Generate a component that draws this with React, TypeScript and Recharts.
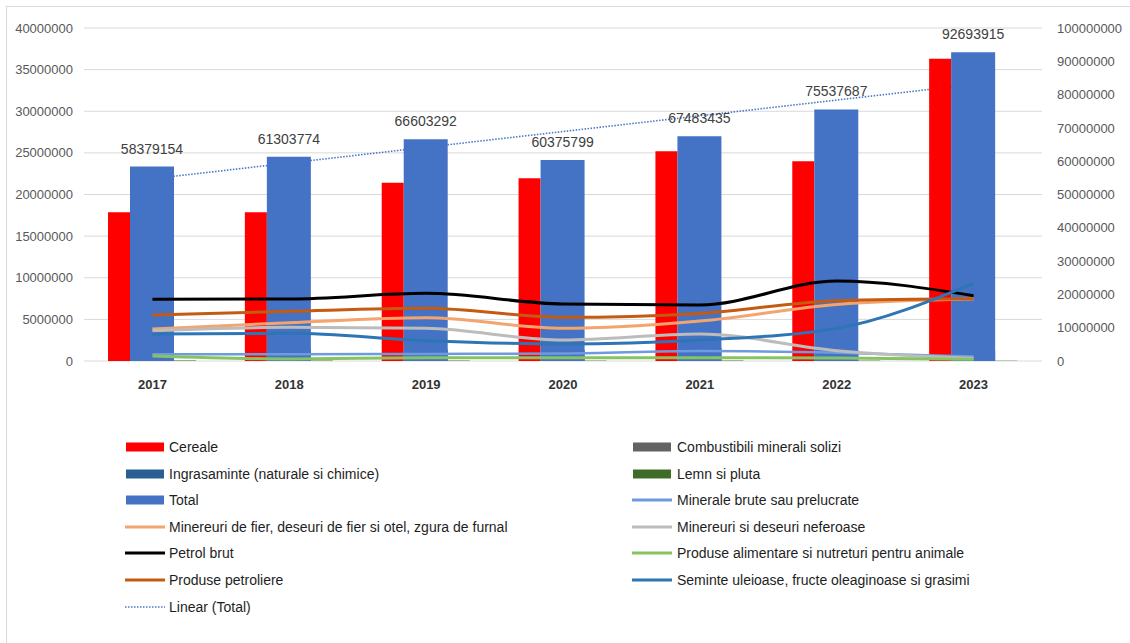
import React from 'react';
import {
  ComposedChart,
  Bar,
  Line,
  XAxis,
  YAxis,
  CartesianGrid,
  LabelList,
  Legend,
} from 'recharts';

// Port traffic by cargo group, tonnes
const years = ['2017', '2018', '2019', '2020', '2021', '2022', '2023'];

// Column series (left axis, except Total on the right axis)
const cereale = [17860000, 17860000, 21420000, 21940000, 25200000, 24000000, 36300000];
const combustibili = [450000, 400000, 380000, 300000, 420000, 520000, 380000];
const ingrasaminte = [1500000, 1450000, 1400000, 1350000, 1600000, 1300000, 1250000];
const lemn = [60000, 50000, 50000, 40000, 50000, 40000, 30000];
const total = [58379154, 61303774, 66603292, 60375799, 67483435, 75537687, 92693915];

// Line series (left axis)
const mineraleBrute = [800000, 800000, 850000, 900000, 1200000, 1000000, 550000];
const minereuriFier = [3840000, 4600000, 5200000, 3920000, 4800000, 6800000, 7450000];
const minereuriNeferoase = [3640000, 4040000, 3920000, 2520000, 3240000, 1240000, 320000];
const petrolBrut = [7420000, 7450000, 8130000, 6850000, 6730000, 9600000, 7850000];
const produseAlimentare = [600000, 250000, 400000, 400000, 400000, 350000, 200000];
const produsePetroliere = [5530000, 5970000, 6330000, 5250000, 5720000, 7250000, 7490000];
const seminte = [3240000, 3320000, 2440000, 2040000, 2520000, 3920000, 9330000];

// Linear (Total) trendline values (right axis)
const totalTrend = [54736839, 59461562, 64186285, 68911008, 73635731, 78360454, 83085177];

const leftTicks = [0, 5000000, 10000000, 15000000, 20000000, 25000000, 30000000, 35000000, 40000000];
const rightTicks = [0, 10000000, 20000000, 30000000, 40000000, 50000000, 60000000, 70000000, 80000000, 90000000, 100000000];

const rows = years.map((year, i) => ({
  year,
  cereale: cereale[i],
  combustibili: combustibili[i],
  ingrasaminte: ingrasaminte[i],
  lemn: lemn[i],
  total: total[i],
  mineraleBrute: mineraleBrute[i],
  minereuriFier: minereuriFier[i],
  minereuriNeferoase: minereuriNeferoase[i],
  petrolBrut: petrolBrut[i],
  produseAlimentare: produseAlimentare[i],
  produsePetroliere: produsePetroliere[i],
  seminte: seminte[i],
  totalTrend: totalTrend[i],
}));

const FONT = '"Liberation Sans", Arial, sans-serif';

type LegendEntry = { label: string; color: string; kind: 'bar' | 'line' | 'dots' };

const legendEntries: LegendEntry[] = [
  { label: 'Cereale', color: '#ff0000', kind: 'bar' },
  { label: 'Combustibili minerali solizi', color: '#636363', kind: 'bar' },
  { label: 'Ingrasaminte (naturale si chimice)', color: '#285e91', kind: 'bar' },
  { label: 'Lemn si pluta', color: '#3e6b27', kind: 'bar' },
  { label: 'Total', color: '#4472c4', kind: 'bar' },
  { label: 'Minerale brute sau prelucrate', color: '#6e9be0', kind: 'line' },
  { label: 'Minereuri de fier, deseuri de fier si otel, zgura de furnal', color: '#f4a46f', kind: 'line' },
  { label: 'Minereuri si deseuri neferoase', color: '#bcbcbc', kind: 'line' },
  { label: 'Petrol brut', color: '#000000', kind: 'line' },
  { label: 'Produse alimentare si nutreturi pentru animale', color: '#86c462', kind: 'line' },
  { label: 'Produse petroliere', color: '#c55a11', kind: 'line' },
  { label: 'Seminte uleioase, fructe oleaginoase si grasimi', color: '#2e75b6', kind: 'line' },
  { label: 'Linear (Total)', color: '#4a78c8', kind: 'dots' },
];

const renderLegend = () => (
  <div style={{ position: 'relative', width: 1130, height: 200, fontFamily: FONT }}>
    {legendEntries.map((e, i) => {
      const col = i % 2;
      const row = Math.floor(i / 2);
      const cy = 17 + row * 26.6;
      const swX = col === 0 ? 126 : 633;
      const txtX = col === 0 ? 169 : 677;
      return (
        <React.Fragment key={e.label}>
          <svg
            width={42}
            height={12}
            style={{ position: 'absolute', left: swX - 1, top: cy - 6 }}
          >
            {e.kind === 'bar' && <rect x={1} y={1.5} width={38} height={9} fill={e.color} />}
            {e.kind === 'line' && <line x1={0} y1={6} x2={40} y2={6} stroke={e.color} strokeWidth={3} />}
            {e.kind === 'dots' && (
              <line x1={0} y1={6} x2={40} y2={6} stroke={e.color} strokeWidth={1.5} strokeDasharray="1.5 1.5" />
            )}
          </svg>
          <div
            style={{
              position: 'absolute',
              left: txtX,
              top: cy - 9,
              height: 18,
              lineHeight: '18px',
              fontSize: 14,
              color: '#1e1e1e',
              whiteSpace: 'nowrap',
            }}
          >
            {e.label}
          </div>
        </React.Fragment>
      );
    })}
  </div>
);

export default function App() {
  return (
    <div
      style={{
        position: 'absolute',
        left: 0,
        top: 0,
        width: 1130,
        height: 643,
        background: '#ffffff',
        overflow: 'hidden',
      }}
    >
      <div
        style={{
          position: 'absolute',
          left: 6,
          top: 6,
          width: 1200,
          height: 700,
          borderTop: '1px solid #d9d9d9',
          borderLeft: '1px solid #d9d9d9',
        }}
      />
      <ComposedChart
        width={1130}
        height={643}
        data={rows}
        margin={{ top: 28, right: 0, bottom: 252, left: 0 }}
        barGap={0}
        style={{ fontFamily: FONT }}
      >
        <CartesianGrid yAxisId="left" xAxisId="main" vertical={false} stroke="#d9d9d9" />
        <XAxis
          xAxisId="main"
          dataKey="year"
          height={30}
          axisLine={false}
          tickLine={false}
          tickSize={0}
          tickMargin={19}
          tick={{ fill: '#333333', fontSize: 13, fontWeight: 700, fontFamily: FONT }}
        />
        <XAxis xAxisId="tot" dataKey="year" hide />
        <YAxis
          yAxisId="left"
          width={84}
          domain={[0, 40000000]}
          ticks={leftTicks}
          interval={0}
          axisLine={false}
          tickLine={false}
          tickSize={0}
          tickMargin={11}
          tick={{ fill: '#595959', fontSize: 13, fontFamily: FONT }}
        />
        <YAxis
          yAxisId="right"
          orientation="right"
          width={88}
          domain={[0, 100000000]}
          ticks={rightTicks}
          interval={0}
          axisLine={false}
          tickLine={false}
          tickSize={0}
          tickMargin={15}
          tick={{ fill: '#595959', fontSize: 13, fontFamily: FONT }}
        />

        {/* trendline sits behind the columns */}
        <Line
          xAxisId="main"
          yAxisId="right"
          dataKey="totalTrend"
          stroke="#4a78c8"
          strokeWidth={1.6}
          strokeDasharray="1.5 1.5"
          dot={false}
          isAnimationActive={false}
          zIndex={250}
        />

        <Bar xAxisId="main" yAxisId="left" dataKey="cereale" fill="#ff0000" barSize={22} isAnimationActive={false} />
        <Bar xAxisId="main" yAxisId="left" dataKey="combustibili" fill="#636363" barSize={22} isAnimationActive={false} />
        <Bar xAxisId="main" yAxisId="left" dataKey="ingrasaminte" fill="#285e91" barSize={22} isAnimationActive={false} />
        <Bar xAxisId="main" yAxisId="left" dataKey="lemn" fill="#3e6b27" barSize={22} isAnimationActive={false} />
        <Bar xAxisId="tot" yAxisId="right" dataKey="total" fill="#4472c4" barSize={44} isAnimationActive={false}>
          <LabelList
            dataKey="total"
            position="top"
            offset={13}
            fill="#404040"
            fontSize={14}
            fontFamily={FONT}
          />
        </Bar>

        <Line xAxisId="main" yAxisId="left" type="monotone" dataKey="mineraleBrute" stroke="#6e9be0" strokeWidth={2.5} dot={false} isAnimationActive={false} />
        <Line xAxisId="main" yAxisId="left" type="monotone" dataKey="minereuriFier" stroke="#f4a46f" strokeWidth={3} dot={false} isAnimationActive={false} />
        <Line xAxisId="main" yAxisId="left" type="monotone" dataKey="minereuriNeferoase" stroke="#bcbcbc" strokeWidth={3} dot={false} isAnimationActive={false} />
        <Line xAxisId="main" yAxisId="left" type="monotone" dataKey="petrolBrut" stroke="#000000" strokeWidth={3} dot={false} isAnimationActive={false} />
        <Line xAxisId="main" yAxisId="left" type="monotone" dataKey="produseAlimentare" stroke="#86c462" strokeWidth={3} dot={false} isAnimationActive={false} />
        <Line xAxisId="main" yAxisId="left" type="monotone" dataKey="produsePetroliere" stroke="#c55a11" strokeWidth={3} dot={false} isAnimationActive={false} />
        <Line xAxisId="main" yAxisId="left" type="monotone" dataKey="seminte" stroke="#2e75b6" strokeWidth={3} dot={false} isAnimationActive={false} />

        <Legend
          layout="horizontal"
          verticalAlign="middle"
          align="center"
          content={renderLegend}
          wrapperStyle={{ left: 0, top: 430, width: 1130, height: 200 }}
        />
      </ComposedChart>
    </div>
  );
}
